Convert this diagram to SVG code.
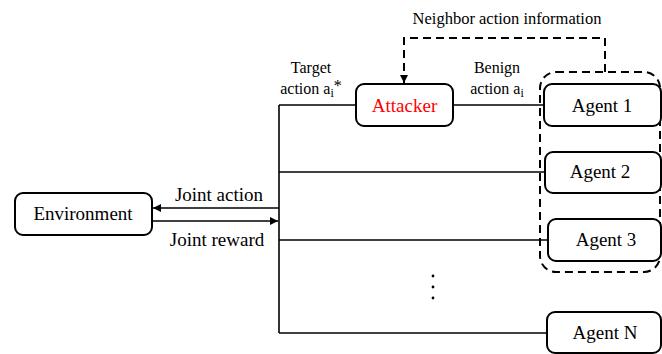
<svg xmlns="http://www.w3.org/2000/svg" width="662" height="354" viewBox="0 0 662 354">
<style>
.box{fill:#fff;stroke:#000;stroke-width:2}
.ln{fill:none;stroke:#000;stroke-width:1.6}
.dash{fill:none;stroke:#000;stroke-width:2;stroke-dasharray:8 5}
text{font-family:"Liberation Serif","Times New Roman",serif;fill:#000;text-anchor:middle}
.big{font-size:19px}
.sm{font-size:16px}
</style>
<defs>
<marker id="ah" viewBox="0 0 10 10" refX="10" refY="5" markerWidth="9" markerHeight="8" markerUnits="userSpaceOnUse" orient="auto">
<path d="M0,0 L10,5 L0,10 z" fill="#000"/>
</marker>
</defs>
<g id="connectors">
<path class="ln" d="M279,105 V333"/>
<path class="ln" d="M279,105 H356"/>
<path class="ln" d="M453,105 H544"/>
<path class="ln" d="M279,172 H545"/>
<path class="ln" d="M279,240 H548"/>
<path class="ln" d="M279,333 H547"/>
<path class="ln" d="M279,208 H153" marker-end="url(#ah)"/>
<path class="ln" d="M152,221 H278" marker-end="url(#ah)"/>
<path class="dash" d="M605,72 V38 H404 V83" marker-end="url(#ah)"/>
<rect class="dash" x="540" y="72" width="120" height="200" rx="16"/>
</g>
<text class="sm" x="507" y="24" style="font-size:16.5px">Neighbor action information</text>
<text class="sm" x="311" y="73">Target</text>
<text class="sm" x="311" y="94">action a<tspan font-size="12" dy="3">i</tspan><tspan dy="-6">*</tspan></text>
<text class="sm" x="497" y="73">Benign</text>
<text class="sm" x="497" y="94">action a<tspan font-size="12" dy="3">i</tspan></text>
<text class="big" x="219" y="201">Joint action</text>
<text class="big" x="217" y="246">Joint reward</text>
<g id="environment"><rect class="box" x="15" y="193" width="137" height="42" rx="8"/><text class="big" x="83" y="220">Environment</text></g>
<g id="attacker"><rect class="box" x="356" y="84" width="97" height="42" rx="8"/><text class="big" x="404.5" y="112" style="fill:#ff0000">Attacker</text></g>
<g id="agent1"><rect class="box" x="544" y="84" width="117" height="42" rx="8"/><text class="big" x="602" y="112">Agent 1</text></g>
<g id="agent2"><rect class="box" x="545" y="152" width="116" height="41" rx="8"/><text class="big" x="600" y="178">Agent 2</text></g>
<g id="agent3"><rect class="box" x="548" y="219" width="113" height="42" rx="8"/><text class="big" x="606" y="246">Agent 3</text></g>
<g id="agentN"><rect class="box" x="547" y="312" width="114" height="41" rx="8"/><text class="big" x="605" y="339">Agent N</text></g>
<g id="dots"><circle cx="433" cy="276" r="1.4"/><circle cx="433" cy="287" r="1.4"/><circle cx="433" cy="298" r="1.4"/></g>
</svg>
